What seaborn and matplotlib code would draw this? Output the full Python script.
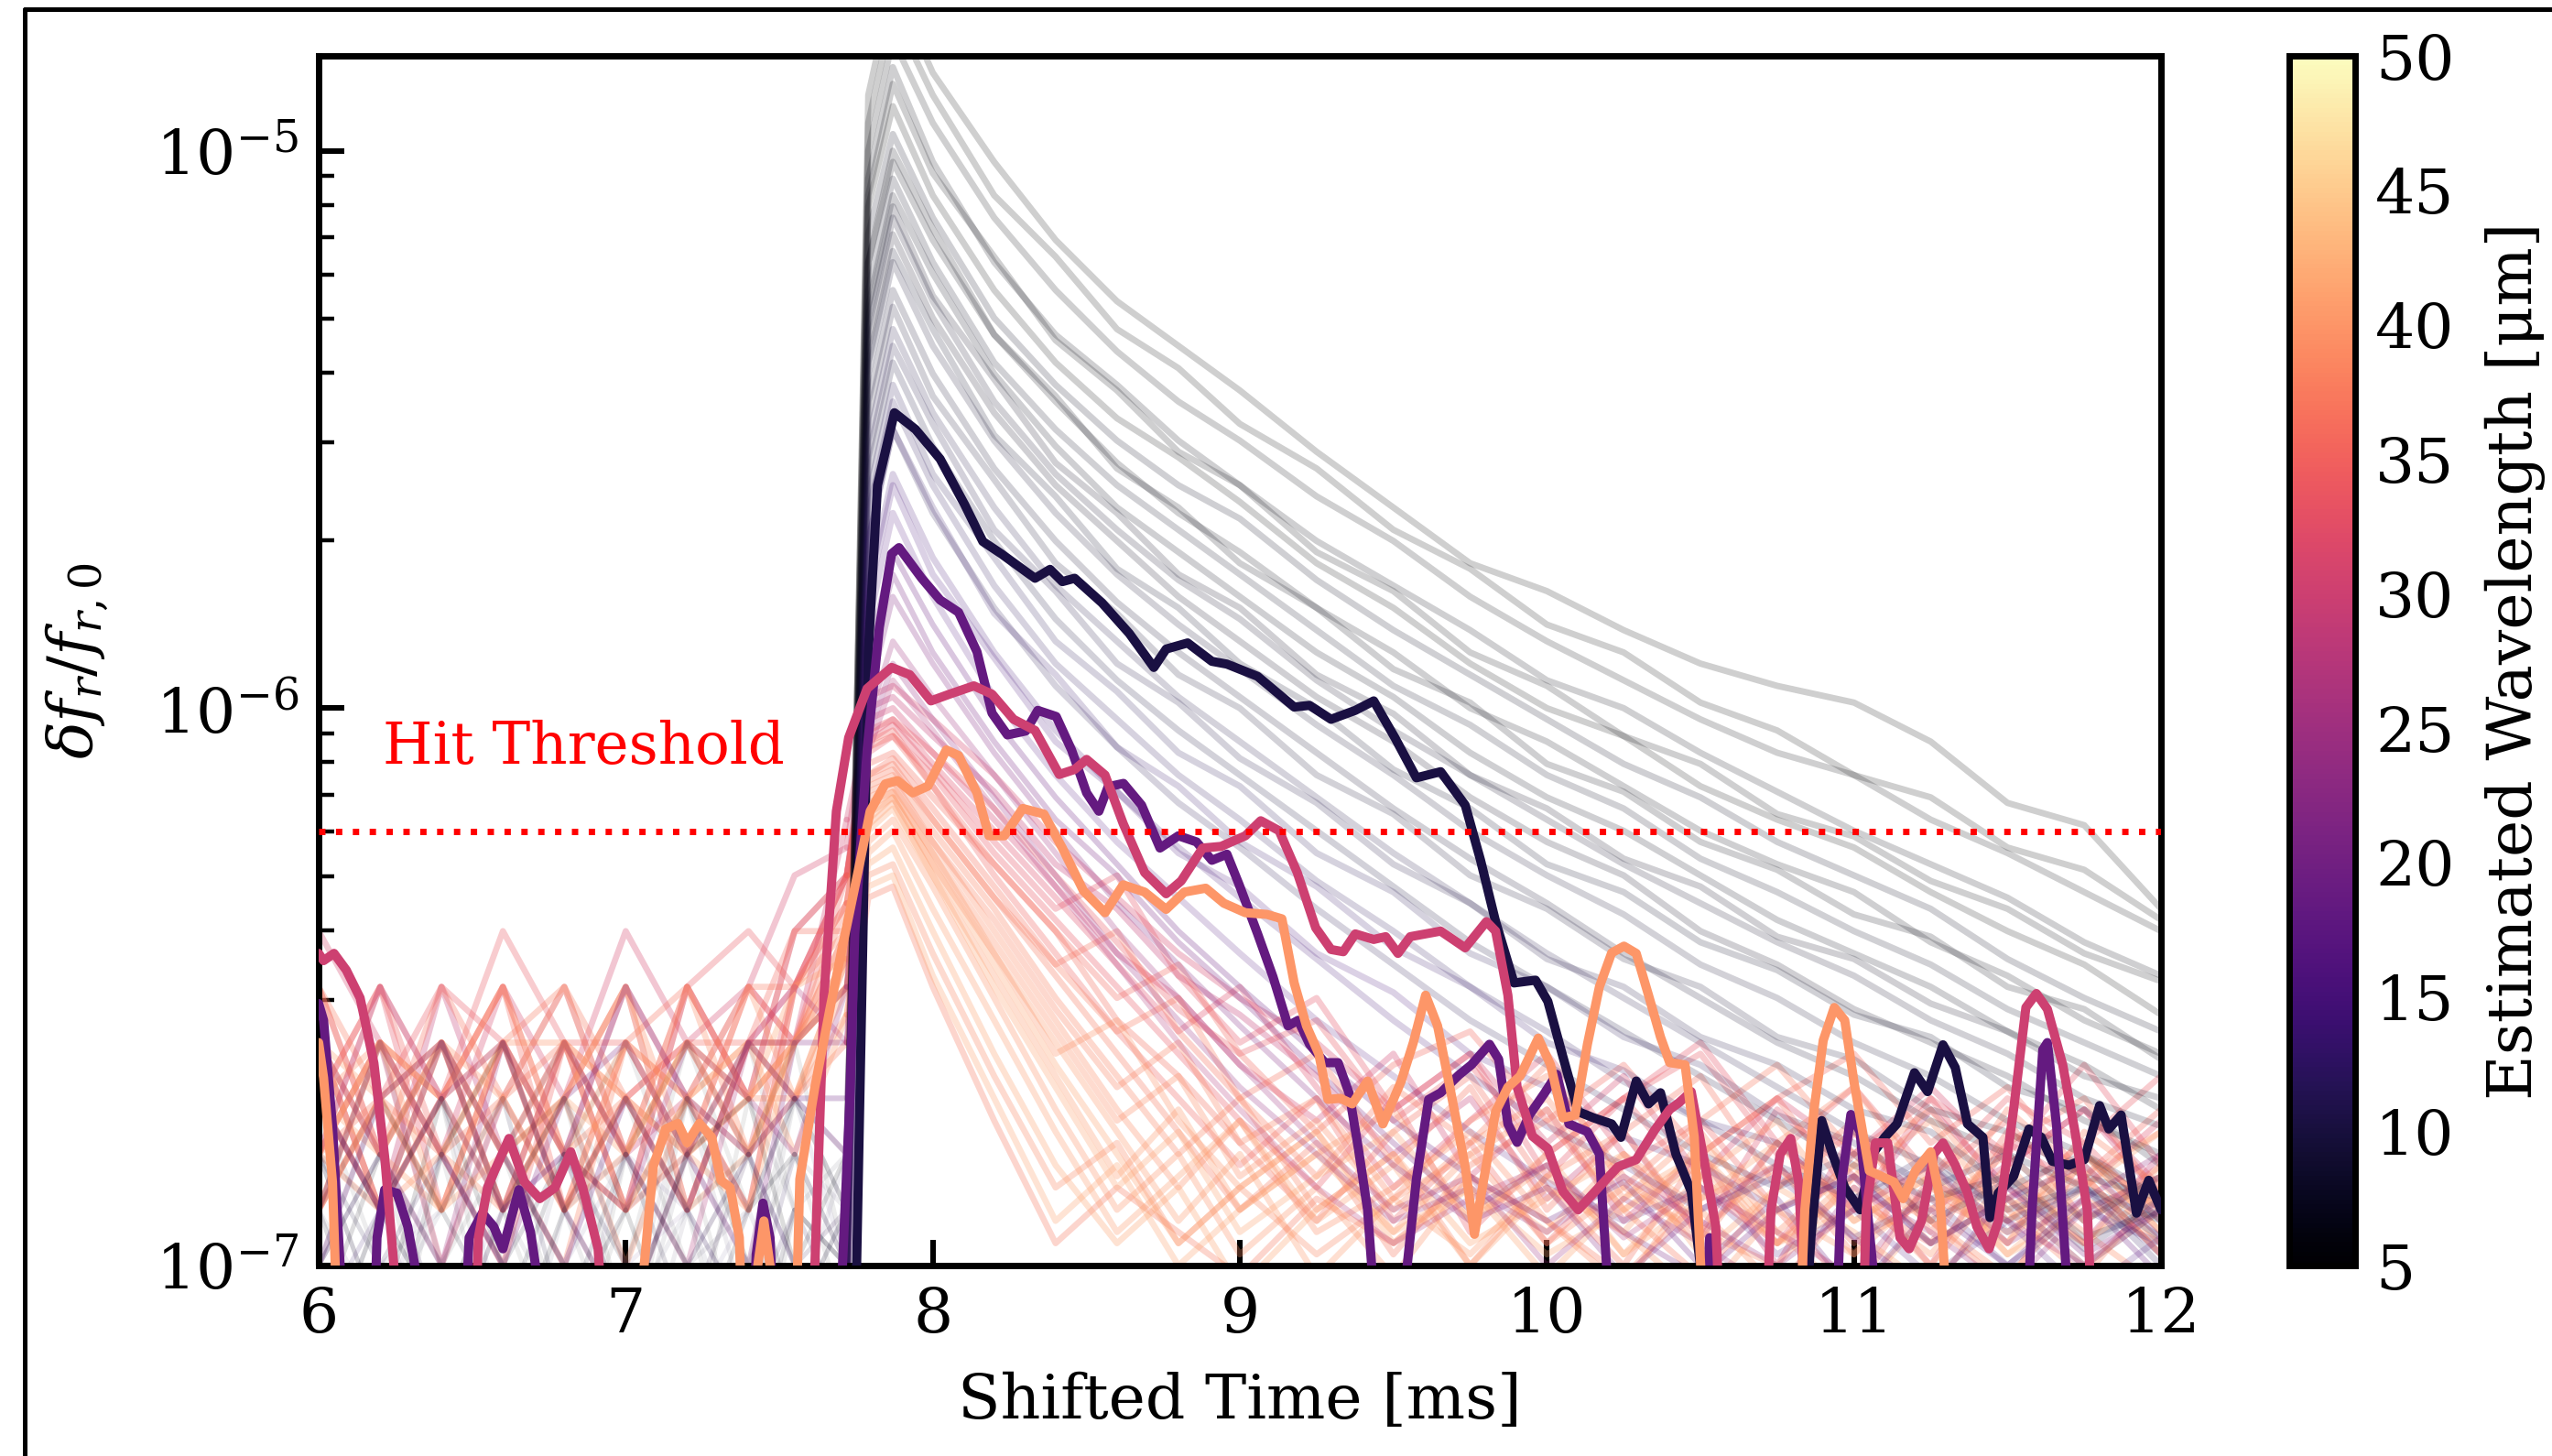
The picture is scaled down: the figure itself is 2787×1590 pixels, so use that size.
import numpy as np
import pandas as pd
import matplotlib
matplotlib.use("Agg")
import matplotlib.pyplot as plt
import seaborn as sns
from matplotlib.colors import Normalize
from matplotlib.cm import ScalarMappable
from matplotlib.lines import Line2D
from matplotlib.ticker import NullLocator, LogLocator

# ---------------- data (values in log10 of delta f_r / f_r,0) ----------------
bg_time = [6.0, 6.2, 6.4, 6.6, 6.8, 7.0, 7.2, 7.4, 7.55, 7.72, 7.79, 7.87,
           8.0, 8.2, 8.4, 8.6, 8.8, 9.0, 9.25, 9.5, 9.75, 10.0, 10.25, 10.5,
           10.75, 11.0, 11.25, 11.5, 11.75, 12.0]

dark_wavelength = [5.0, 5.6, 6.2, 5.3, 6.8, 5.9, 7.4, 6.5, 8.0, 7.0, 9.0, 8.2,
                   10.5, 9.5, 12.0, 11.0, 14.0, 16.0,
                   5.2, 5.8, 6.4, 7.2, 7.8, 8.8, 10.0, 11.5, 13.0, 15.0]
dark_log = [
    [-7.0, -6.8, -7.2, -6.9, -6.7, -7.1, -6.8, -7.2, -6.9, -7.0, -4.90, -4.70, -4.86, -5.02, -5.16, -5.27, -5.35, -5.43, -5.54, -5.64, -5.74, -5.79, -5.86, -5.92, -5.96, -5.99, -6.06, -6.17, -6.21, -6.36],
    [-6.8, -7.1, -6.7, -7.2, -6.9, -6.7, -7.0, -6.8, -7.1, -6.9, -5.00, -4.80, -4.95, -5.12, -5.25, -5.36, -5.45, -5.52, -5.62, -5.70, -5.80, -5.88, -5.95, -6.02, -6.08, -6.12, -6.20, -6.26, -6.33, -6.40],
    [-7.2, -6.9, -6.7, -7.0, -7.3, -6.8, -6.6, -6.9, -6.8, -7.1, -5.05, -4.85, -5.02, -5.20, -5.33, -5.42, -5.52, -5.60, -5.70, -5.78, -5.86, -5.95, -6.00, -6.08, -6.15, -6.22, -6.28, -6.34, -6.42, -6.48],
    [-6.9, -6.6, -7.0, -6.8, -7.1, -6.9, -7.2, -6.7, -7.0, -6.8, -5.10, -4.92, -5.08, -5.25, -5.38, -5.48, -5.55, -5.63, -5.74, -5.82, -5.92, -6.00, -6.05, -6.14, -6.20, -6.25, -6.33, -6.40, -6.46, -6.55],
    [-7.0, -7.3, -6.8, -6.6, -6.9, -7.2, -6.7, -7.0, -6.7, -6.9, -5.15, -4.97, -5.12, -5.30, -5.42, -5.52, -5.60, -5.66, -5.77, -5.86, -5.94, -6.02, -6.10, -6.16, -6.24, -6.30, -6.36, -6.45, -6.52, -6.58],
    [-6.7, -6.9, -7.1, -6.8, -6.6, -6.8, -7.1, -6.8, -6.6, -7.0, -5.20, -5.02, -5.16, -5.33, -5.45, -5.56, -5.65, -5.72, -5.82, -5.90, -6.00, -6.06, -6.14, -6.22, -6.28, -6.33, -6.42, -6.48, -6.56, -6.62],
    [-7.3, -7.0, -6.8, -7.2, -6.9, -6.7, -6.9, -7.3, -6.9, -7.1, -5.25, -5.05, -5.20, -5.38, -5.50, -5.60, -5.68, -5.76, -5.86, -5.96, -6.03, -6.12, -6.18, -6.27, -6.33, -6.40, -6.46, -6.54, -6.60, -6.66],
    [-6.9, -6.7, -6.9, -7.1, -6.8, -7.0, -6.6, -6.8, -7.0, -6.8, -5.28, -5.08, -5.22, -5.40, -5.53, -5.64, -5.72, -5.80, -5.90, -5.98, -6.08, -6.16, -6.22, -6.30, -6.38, -6.44, -6.50, -6.58, -6.64, -6.72],
    [-7.1, -6.8, -7.0, -6.7, -7.1, -6.8, -7.0, -7.1, -6.7, -6.9, -5.32, -5.12, -5.27, -5.45, -5.58, -5.68, -5.77, -5.84, -5.95, -6.04, -6.12, -6.20, -6.28, -6.35, -6.42, -6.48, -6.56, -6.62, -6.70, -6.75],
    [-6.8, -7.1, -6.7, -7.0, -6.8, -7.1, -6.8, -6.6, -6.9, -7.0, -5.35, -5.15, -5.30, -5.47, -5.60, -5.70, -5.80, -5.88, -5.98, -6.06, -6.16, -6.24, -6.30, -6.40, -6.46, -6.54, -6.60, -6.66, -6.74, -6.80],
    [-7.2, -6.9, -7.1, -6.8, -7.0, -7.3, -6.9, -6.8, -7.1, -6.9, -5.40, -5.20, -5.35, -5.52, -5.65, -5.76, -5.85, -5.93, -6.03, -6.12, -6.22, -6.30, -6.37, -6.46, -6.52, -6.60, -6.66, -6.74, -6.80, -6.88],
    [-6.8, -7.0, -7.2, -6.9, -6.7, -7.0, -7.2, -6.9, -6.8, -7.0, -5.45, -5.25, -5.40, -5.57, -5.70, -5.81, -5.90, -5.98, -6.08, -6.18, -6.27, -6.35, -6.44, -6.52, -6.60, -6.66, -6.74, -6.80, -6.86, -6.92],
    [-7.0, -6.8, -7.1, -7.3, -6.9, -6.8, -7.0, -6.8, -7.0, -7.1, -5.52, -5.32, -5.47, -5.64, -5.78, -5.88, -5.98, -6.06, -6.16, -6.26, -6.35, -6.44, -6.52, -6.60, -6.68, -6.76, -6.82, -6.90, -6.86, -6.95],
    [-6.9, -7.2, -6.8, -7.0, -6.8, -7.1, -6.7, -7.1, -6.8, -6.9, -5.58, -5.38, -5.53, -5.70, -5.84, -5.95, -6.04, -6.12, -6.22, -6.32, -6.42, -6.50, -6.58, -6.66, -6.74, -6.82, -6.88, -6.84, -6.95, -6.90],
    [-7.1, -6.9, -6.7, -7.1, -7.0, -6.8, -7.1, -6.9, -6.7, -7.0, -5.65, -5.45, -5.60, -5.78, -5.92, -6.02, -6.12, -6.20, -6.31, -6.40, -6.50, -6.58, -6.67, -6.74, -6.82, -6.88, -6.80, -6.92, -6.86, -7.00],
    [-6.8, -7.0, -6.9, -6.7, -7.1, -6.9, -6.8, -7.0, -7.1, -6.8, -5.70, -5.50, -5.65, -5.82, -5.96, -6.07, -6.17, -6.25, -6.36, -6.46, -6.56, -6.64, -6.72, -6.80, -6.86, -6.80, -6.92, -6.85, -6.97, -6.88],
    [-7.2, -7.0, -6.8, -7.0, -7.2, -7.0, -6.9, -7.1, -6.9, -7.1, -5.78, -5.58, -5.73, -5.90, -6.04, -6.15, -6.25, -6.34, -6.45, -6.56, -6.66, -6.75, -6.82, -6.90, -6.84, -6.95, -6.88, -7.00, -6.90, -6.96],
    [-7.0, -6.8, -7.1, -6.9, -6.8, -7.1, -7.0, -6.8, -7.0, -7.1, -5.85, -5.65, -5.80, -5.98, -6.12, -6.24, -6.34, -6.44, -6.56, -6.66, -6.76, -6.85, -6.92, -6.86, -6.98, -6.90, -7.02, -6.92, -7.05, -6.95],
    [-6.9, -7.2, -6.8, -6.6, -6.9, -7.1, -6.8, -6.7, -7.0, -6.9, -4.95, -4.75, -4.90, -5.08, -5.19, -5.32, -5.39, -5.49, -5.57, -5.68, -5.75, -5.85, -5.90, -5.99, -6.04, -6.12, -6.16, -6.25, -6.29, -6.38],
    [-7.1, -6.8, -6.6, -6.9, -7.2, -6.9, -6.7, -7.0, -6.8, -7.0, -5.08, -4.88, -5.04, -5.19, -5.34, -5.43, -5.54, -5.60, -5.72, -5.79, -5.90, -5.96, -6.05, -6.10, -6.19, -6.23, -6.31, -6.36, -6.44, -6.49],
    [-6.7, -7.0, -7.2, -6.8, -6.7, -6.9, -7.2, -6.9, -6.7, -6.8, -5.20, -5.00, -5.14, -5.33, -5.44, -5.57, -5.64, -5.74, -5.82, -5.93, -5.99, -6.10, -6.15, -6.24, -6.29, -6.37, -6.41, -6.50, -6.54, -6.63],
    [-7.0, -6.7, -6.9, -7.1, -6.8, -6.6, -6.9, -7.1, -6.9, -7.0, -5.30, -5.10, -5.26, -5.41, -5.56, -5.65, -5.76, -5.82, -5.94, -6.01, -6.12, -6.18, -6.27, -6.32, -6.41, -6.45, -6.53, -6.58, -6.66, -6.70],
    [-6.8, -6.9, -7.1, -6.8, -7.0, -7.2, -6.8, -6.7, -6.9, -6.8, -5.38, -5.18, -5.32, -5.51, -5.62, -5.75, -5.82, -5.92, -6.00, -6.11, -6.18, -6.28, -6.33, -6.42, -6.47, -6.55, -6.59, -6.68, -6.72, -6.82],
    [-7.2, -6.9, -6.7, -6.9, -7.1, -6.8, -7.0, -6.9, -6.7, -6.9, -5.48, -5.28, -5.44, -5.59, -5.74, -5.83, -5.94, -6.00, -6.12, -6.19, -6.30, -6.36, -6.45, -6.50, -6.59, -6.63, -6.72, -6.76, -6.84, -6.88],
    [-6.9, -7.1, -6.9, -6.7, -6.9, -7.1, -6.9, -7.2, -6.9, -7.0, -5.55, -5.35, -5.49, -5.68, -5.79, -5.92, -5.99, -6.09, -6.17, -6.28, -6.35, -6.45, -6.50, -6.59, -6.64, -6.72, -6.76, -6.86, -6.80, -6.92],
    [-7.0, -6.8, -7.0, -7.2, -6.8, -7.0, -6.7, -6.9, -7.1, -6.9, -5.62, -5.42, -5.58, -5.73, -5.88, -5.97, -6.08, -6.14, -6.26, -6.33, -6.44, -6.50, -6.59, -6.64, -6.73, -6.78, -6.86, -6.80, -6.92, -6.84],
    [-6.8, -7.1, -6.8, -7.0, -7.2, -6.8, -6.9, -7.1, -6.8, -7.0, -5.70, -5.50, -5.64, -5.83, -5.94, -6.07, -6.14, -6.24, -6.32, -6.43, -6.50, -6.60, -6.65, -6.74, -6.78, -6.88, -6.82, -6.94, -6.86, -6.98],
    [-7.1, -6.9, -7.2, -6.9, -6.7, -7.0, -7.1, -6.8, -7.0, -6.9, -5.80, -5.60, -5.76, -5.91, -6.06, -6.15, -6.26, -6.32, -6.44, -6.51, -6.62, -6.68, -6.77, -6.82, -6.90, -6.84, -6.96, -6.88, -7.00, -6.90],
]

mid_wavelength = [19.0, 22.0, 25.0, 27.0, 20.5, 24.0]
mid_log = [
    [-6.7, -6.9, -6.6, -6.8, -7.0, -6.7, -6.9, -6.6, -6.7, -6.7, -5.90, -5.72, -5.85, -6.02, -6.16, -6.28, -6.40, -6.50, -6.62, -6.74, -6.84, -6.92, -6.85, -7.00, -6.88, -7.05, -6.90, -7.00, -6.88, -7.02],
    [-6.9, -6.6, -6.8, -7.0, -6.7, -6.6, -6.8, -7.0, -6.6, -6.6, -5.98, -5.80, -5.92, -6.08, -6.22, -6.35, -6.46, -6.57, -6.70, -6.82, -6.92, -6.86, -7.02, -6.90, -6.82, -6.95, -7.05, -6.86, -6.98, -6.90],
    [-6.6, -6.8, -7.0, -6.6, -6.8, -6.9, -6.6, -6.7, -6.8, -6.5, -6.02, -5.88, -5.98, -6.12, -6.26, -6.40, -6.52, -6.64, -6.78, -6.90, -6.84, -7.00, -6.88, -6.96, -7.05, -6.86, -6.94, -7.04, -6.90, -6.84],
    [-6.8, -6.5, -6.7, -6.9, -6.6, -6.8, -7.0, -6.6, -6.5, -6.6, -6.08, -5.95, -6.04, -6.18, -6.32, -6.46, -6.60, -6.72, -6.86, -6.96, -6.88, -6.82, -6.95, -6.86, -6.94, -7.02, -6.85, -6.92, -7.00, -6.88],
    [-7.0, -6.7, -6.6, -6.9, -6.8, -6.5, -6.7, -6.8, -6.7, -6.8, -5.94, -5.76, -5.90, -6.06, -6.20, -6.30, -6.42, -6.52, -6.65, -6.78, -6.90, -6.82, -6.94, -7.02, -6.90, -6.84, -6.96, -6.88, -6.82, -6.95],
    [-6.7, -6.9, -6.7, -6.6, -6.9, -7.1, -6.8, -6.6, -6.6, -6.5, -6.05, -5.92, -6.02, -6.16, -6.30, -6.44, -6.56, -6.68, -6.80, -6.92, -6.86, -6.94, -6.84, -6.92, -7.00, -6.90, -6.82, -6.96, -6.88, -6.80],
]

warm_wavelength = [29.0, 30.5, 32.0, 33.5, 35.0, 36.0, 37.0, 38.0, 39.0, 40.0,
                   41.0, 41.5, 39.5, 40.5, 41.0, 38.5, 31.0, 34.0, 41.5, 37.0,
                   33.0, 36.5, 38.0, 39.5, 40.0, 37.5, 39.0, 35.5]
warm_log = [
    [-6.6, -6.9, -6.5, -6.8, -6.6, -6.9, -6.5, -6.7, -6.4, -6.30, -6.00, -5.98, -6.05, -6.15, -6.28, -6.36, -6.48, -6.55, -6.66, -6.80, -6.70, -6.88, -6.76, -6.95, -6.78, -6.90, -6.72, -6.86, -6.96, -6.80],
    [-6.8, -6.6, -7.0, -6.7, -6.5, -6.8, -6.7, -6.5, -6.6, -6.20, -6.02, -6.00, -6.08, -6.20, -6.32, -6.44, -6.52, -6.64, -6.74, -6.62, -6.84, -6.72, -6.92, -6.80, -7.00, -6.76, -6.90, -6.82, -6.72, -6.88],
    [-6.5, -6.8, -6.6, -6.9, -6.7, -6.5, -6.9, -6.6, -6.5, -6.30, -6.05, -6.02, -6.10, -6.22, -6.34, -6.46, -6.58, -6.50, -6.68, -6.86, -6.74, -6.62, -6.80, -6.94, -6.72, -6.84, -7.00, -6.78, -6.86, -6.74],
    [-6.9, -6.7, -6.5, -6.6, -6.9, -6.7, -6.6, -6.8, -6.5, -6.35, -6.08, -6.05, -6.12, -6.26, -6.38, -6.50, -6.62, -6.74, -6.86, -6.70, -6.94, -6.80, -6.70, -6.86, -6.96, -6.80, -6.70, -6.88, -6.78, -6.92],
    [-6.7, -6.5, -6.8, -7.0, -6.6, -6.6, -6.8, -6.5, -6.6, -6.30, -6.06, -6.04, -6.14, -6.30, -6.44, -6.58, -6.70, -6.82, -6.70, -6.92, -6.78, -6.96, -6.82, -6.74, -6.90, -7.05, -6.84, -6.74, -6.92, -6.82],
    [-6.6, -6.9, -6.7, -6.5, -6.8, -6.9, -6.5, -6.7, -6.4, -6.40, -6.10, -6.08, -6.16, -6.28, -6.40, -6.56, -6.66, -6.78, -6.92, -6.76, -6.66, -6.86, -7.00, -6.80, -6.70, -6.88, -6.96, -6.76, -6.84, -6.98],
    [-6.8, -6.7, -6.9, -6.6, -6.5, -6.7, -6.9, -6.6, -6.6, -6.35, -6.12, -6.10, -6.20, -6.34, -6.48, -6.62, -6.76, -6.90, -6.78, -6.98, -6.82, -6.74, -6.90, -7.02, -6.86, -6.76, -6.92, -7.04, -6.80, -6.90],
    [-6.5, -6.8, -6.6, -6.8, -7.0, -6.6, -6.7, -6.9, -6.5, -6.40, -6.14, -6.12, -6.22, -6.36, -6.52, -6.66, -6.80, -6.70, -6.90, -6.80, -7.00, -6.84, -6.76, -6.94, -6.82, -6.98, -6.80, -6.90, -7.02, -6.86],
    [-6.7, -6.6, -6.8, -6.9, -6.6, -6.8, -6.5, -6.8, -6.6, -6.40, -6.16, -6.14, -6.24, -6.40, -6.56, -6.72, -6.86, -6.74, -6.94, -6.86, -6.76, -6.92, -7.04, -6.84, -6.96, -6.86, -7.00, -6.84, -6.94, -7.04],
    [-6.9, -6.7, -6.6, -6.8, -6.7, -7.0, -6.7, -6.6, -6.7, -6.45, -6.18, -6.15, -6.26, -6.44, -6.60, -6.76, -6.92, -6.80, -7.02, -6.88, -6.98, -6.84, -6.94, -7.06, -6.90, -6.82, -6.96, -6.88, -7.00, -6.90],
    [-6.6, -6.8, -6.9, -6.6, -6.8, -6.6, -6.8, -6.7, -6.5, -6.45, -6.20, -6.16, -6.28, -6.46, -6.64, -6.80, -6.96, -6.86, -6.76, -6.96, -6.86, -7.02, -6.88, -6.80, -6.94, -7.06, -6.90, -6.80, -6.92, -6.84],
    [-6.8, -6.6, -6.7, -6.9, -6.7, -6.5, -6.9, -6.8, -6.6, -6.50, -6.22, -6.18, -6.30, -6.50, -6.68, -6.86, -6.76, -6.94, -6.84, -6.76, -6.92, -6.80, -6.98, -6.88, -6.78, -6.92, -6.84, -6.98, -6.86, -6.76],
    [-6.7, -6.9, -6.6, -6.7, -6.9, -6.8, -6.6, -6.7, -6.7, -6.50, -6.24, -6.20, -6.32, -6.52, -6.72, -6.90, -6.80, -6.98, -6.86, -7.02, -6.84, -6.94, -6.80, -6.90, -7.04, -6.88, -6.98, -6.82, -6.96, -6.86],
    [-6.9, -6.6, -6.8, -6.6, -6.8, -6.9, -6.7, -6.6, -6.8, -6.55, -6.26, -6.22, -6.36, -6.56, -6.76, -6.94, -6.84, -6.74, -6.92, -6.82, -7.00, -6.86, -6.94, -6.78, -6.90, -6.98, -6.86, -6.92, -6.80, -6.94],
    [-6.6, -6.7, -6.9, -6.8, -6.6, -6.7, -6.8, -6.9, -6.6, -6.50, -6.28, -6.25, -6.40, -6.62, -6.82, -6.96, -6.86, -7.04, -6.90, -6.80, -6.96, -6.88, -6.80, -6.98, -6.86, -6.94, -7.04, -6.88, -6.96, -6.82],
    [-6.8, -6.9, -6.7, -6.6, -6.9, -6.6, -6.7, -6.8, -6.7, -6.55, -6.30, -6.28, -6.44, -6.66, -6.86, -6.78, -6.96, -6.86, -6.98, -6.88, -6.80, -6.96, -6.86, -6.94, -7.00, -6.84, -6.92, -7.02, -6.88, -6.96],
    [-6.4, -6.6, -6.8, -6.5, -6.7, -6.4, -6.6, -6.5, -6.3, -6.25, -5.98, -5.96, -6.02, -6.12, -6.24, -6.34, -6.44, -6.52, -6.60, -6.72, -6.62, -6.78, -6.66, -6.84, -6.70, -6.80, -6.68, -6.82, -6.72, -6.86],
    [-6.8, -6.5, -6.7, -6.4, -6.6, -6.8, -6.5, -6.4, -6.5, -6.30, -6.04, -6.02, -6.08, -6.18, -6.30, -6.42, -6.54, -6.62, -6.56, -6.74, -6.64, -6.80, -6.70, -6.62, -6.80, -6.68, -6.84, -6.70, -6.78, -6.66],
    [-6.7, -6.8, -6.6, -6.9, -6.7, -6.8, -6.6, -6.7, -6.6, -6.50, -6.32, -6.30, -6.48, -6.70, -6.92, -6.82, -7.00, -6.90, -6.80, -6.94, -6.86, -6.98, -6.90, -6.82, -6.96, -6.90, -6.82, -6.98, -6.90, -6.84],
    [-6.9, -6.7, -6.8, -6.7, -6.6, -6.9, -6.8, -6.6, -6.7, -6.60, -6.34, -6.32, -6.50, -6.74, -6.96, -6.86, -6.94, -7.02, -6.88, -6.96, -6.84, -6.92, -7.02, -6.88, -6.82, -6.96, -6.88, -6.94, -6.84, -6.98],
    [-6.7, -6.5, -6.9, -6.6, -6.8, -6.5, -6.7, -6.9, -6.5, -6.30, -6.06, -6.03, -6.11, -6.24, -6.36, -6.30, -6.48, -6.60, -6.52, -6.72, -6.62, -6.84, -6.70, -6.60, -6.78, -6.90, -6.70, -6.80, -6.64, -6.82],
    [-6.6, -6.8, -6.5, -6.7, -6.9, -6.6, -6.5, -6.7, -6.6, -6.40, -6.12, -6.09, -6.18, -6.32, -6.46, -6.40, -6.58, -6.70, -6.62, -6.82, -6.68, -6.90, -6.76, -6.66, -6.86, -6.74, -6.94, -6.78, -6.70, -6.88],
    [-6.9, -6.6, -6.7, -6.5, -6.8, -6.7, -6.9, -6.6, -6.6, -6.45, -6.15, -6.13, -6.24, -6.38, -6.54, -6.68, -6.60, -6.78, -6.70, -6.88, -6.74, -6.66, -6.84, -6.96, -6.78, -6.68, -6.86, -6.96, -6.76, -6.86],
    [-6.6, -6.9, -6.8, -6.6, -6.6, -6.9, -6.7, -6.5, -6.7, -6.45, -6.19, -6.16, -6.28, -6.44, -6.62, -6.56, -6.74, -6.86, -6.76, -6.94, -6.80, -6.72, -6.90, -6.80, -6.96, -6.84, -6.74, -6.92, -6.82, -6.96],
    [-6.8, -6.6, -6.9, -6.7, -6.5, -6.8, -6.6, -6.8, -6.6, -6.50, -6.21, -6.17, -6.30, -6.48, -6.66, -6.84, -6.72, -6.90, -6.80, -6.72, -6.92, -6.82, -6.98, -6.84, -6.74, -6.92, -6.84, -6.96, -6.80, -6.90],
    [-6.5, -6.7, -6.6, -6.9, -6.6, -6.7, -6.8, -6.5, -6.5, -6.35, -6.13, -6.11, -6.20, -6.34, -6.46, -6.58, -6.52, -6.70, -6.84, -6.68, -6.78, -6.64, -6.86, -6.74, -6.64, -6.80, -6.92, -6.72, -6.84, -6.76],
    [-6.7, -6.9, -6.6, -6.8, -6.7, -6.5, -6.8, -6.7, -6.6, -6.45, -6.17, -6.15, -6.26, -6.42, -6.58, -6.74, -6.66, -6.84, -6.74, -6.90, -6.78, -6.70, -6.88, -6.76, -6.94, -6.82, -6.72, -6.90, -6.80, -6.94],
    [-6.8, -6.6, -6.7, -6.5, -6.9, -6.7, -6.6, -6.6, -6.4, -6.30, -6.07, -6.05, -6.14, -6.28, -6.40, -6.52, -6.46, -6.62, -6.76, -6.64, -6.58, -6.74, -6.64, -6.80, -6.70, -6.62, -6.78, -6.68, -6.84, -6.72],
]

# highlighted traces (time [ms], log10 value)
hl_wavelength = [10.4, 18.5, 30.0, 40.0]

navy_t = [6.0, 7.745, 7.766, 7.79, 7.82, 7.875, 7.944, 8.024, 8.104, 8.163, 8.223, 8.293, 8.333, 8.382, 8.422, 8.462,
          8.551, 8.640, 8.720, 8.760, 8.830, 8.909, 8.958, 9.058, 9.177, 9.227, 9.297, 9.376, 9.436, 9.505, 9.575,
          9.654, 9.734, 9.784, 9.833, 9.893, 9.963, 10.003, 10.052, 10.102, 10.152, 10.211, 10.241, 10.291, 10.331,
          10.370, 10.420, 10.470, 10.50, 10.53, 10.82, 10.86, 10.895, 10.93, 10.97, 11.02, 11.06, 11.10, 11.14,
          11.197, 11.24, 11.29, 11.33, 11.37, 11.42, 11.443, 11.47, 11.52, 11.57, 11.61, 11.646, 11.70, 11.75,
          11.80, 11.83, 11.87, 11.92, 11.96, 12.0]
navy_v = [-7.3, -7.2, -6.6, -5.9, -5.6, -5.47, -5.50, -5.553, -5.635, -5.701, -5.723, -5.751, -5.767, -5.751, -5.773, -5.767,
          -5.811, -5.866, -5.927, -5.894, -5.883, -5.916, -5.921, -5.943, -5.998, -5.995, -6.020, -6.004, -5.987, -6.053, -6.125,
          -6.114, -6.174, -6.273, -6.383, -6.493, -6.488, -6.526, -6.625, -6.724, -6.735, -6.746, -6.77, -6.669, -6.71,
          -6.69, -6.80, -6.867, -7.0, -7.3, -7.3, -6.95, -6.74, -6.80, -6.86, -6.90, -6.80, -6.77, -6.746,
          -6.654, -6.688, -6.604, -6.645, -6.746, -6.77, -6.914, -6.87, -6.84, -6.755, -6.77, -6.813, -6.82, -6.81,
          -6.713, -6.755, -6.73, -6.906, -6.847, -6.90]

purple_t = [6.0, 6.016, 6.045, 6.075, 6.10, 6.17, 6.19, 6.215, 6.255, 6.29, 6.33, 6.36, 6.46, 6.49, 6.533, 6.57, 6.60,
            6.652, 6.69, 6.72, 6.75, 7.40, 7.425, 7.447, 7.47, 7.49, 7.52, 7.69, 7.706, 7.73, 7.746, 7.786, 7.826,
            7.866, 7.89, 7.964, 8.024, 8.084, 8.144, 8.193, 8.243, 8.303, 8.342, 8.402, 8.452, 8.501, 8.541, 8.571,
            8.621, 8.680, 8.740, 8.800, 8.859, 8.909, 8.958, 8.998, 9.058, 9.108, 9.157, 9.19, 9.227, 9.277, 9.32,
            9.356, 9.386, 9.416, 9.436, 9.46, 9.52, 9.545, 9.575, 9.615, 9.654, 9.714, 9.754, 9.813, 9.843, 9.873,
            9.903, 9.943, 9.992, 10.032, 10.072, 10.132, 10.171, 10.20, 10.23, 10.50, 10.53, 10.56, 10.93, 10.96,
            10.99, 11.02, 11.04, 11.07, 11.09, 11.55, 11.58, 11.615, 11.63, 11.66, 11.69, 11.72, 12.0]
purple_v = [-6.53, -6.56, -6.75, -7.05, -7.3, -7.3, -6.95, -6.864, -6.87, -6.93, -7.05, -7.3, -7.3, -6.95, -6.906, -6.93, -6.97,
            -6.864, -6.94, -7.05, -7.3, -7.3, -6.98, -6.888, -6.95, -7.2, -7.3, -7.3, -7.0, -6.7, -6.405, -6.075, -5.855,
            -5.723, -5.712, -5.767, -5.806, -5.828, -5.899, -6.009, -6.048, -6.041, -6.004, -6.015, -6.075, -6.152, -6.185, -6.141,
            -6.135, -6.174, -6.251, -6.229, -6.24, -6.273, -6.262, -6.317, -6.405, -6.482, -6.570, -6.56, -6.603, -6.636, -6.636,
            -6.691, -6.79, -6.90, -7.05, -7.3, -7.3, -7.0, -6.845, -6.702, -6.69, -6.658, -6.64, -6.603, -6.63, -6.746,
            -6.779, -6.73, -6.691, -6.657, -6.746, -6.76, -6.80, -7.05, -7.3, -7.3, -6.95, -7.3, -7.3, -6.85,
            -6.729, -6.76, -6.88, -7.05, -7.3, -7.3, -6.9, -6.613, -6.60, -6.75, -7.0, -7.3, -7.3]

pink_t = [6.0, 6.016, 6.05, 6.09, 6.135, 6.18, 6.215, 6.245, 6.26, 6.50, 6.52, 6.55, 6.573, 6.62, 6.67, 6.72, 6.77,
          6.821, 6.86, 6.91, 6.95, 7.60, 7.616, 7.646, 7.686, 7.726, 7.786, 7.866, 7.925, 7.994, 8.054, 8.134,
          8.193, 8.263, 8.333, 8.412, 8.462, 8.501, 8.561, 8.620, 8.690, 8.760, 8.809, 8.879, 8.939, 9.018, 9.068,
          9.128, 9.187, 9.247, 9.297, 9.337, 9.376, 9.436, 9.475, 9.515, 9.555, 9.654, 9.734, 9.803, 9.833, 9.873,
          9.903, 9.953, 10.003, 10.052, 10.102, 10.152, 10.231, 10.291, 10.351, 10.40, 10.43, 10.47, 10.51, 10.55,
          10.58, 10.70, 10.73, 10.76, 10.794, 10.82, 10.86, 11.02, 11.04, 11.07, 11.11, 11.15, 11.18, 11.22, 11.26,
          11.29, 11.33, 11.37, 11.40, 11.44, 11.47, 11.52, 11.56, 11.594, 11.63, 11.68, 11.72, 11.76, 11.79, 12.0]
pink_v = [-6.44, -6.453, -6.44, -6.47, -6.52, -6.637, -6.805, -7.0, -7.3, -7.3, -6.95, -6.86, -6.83, -6.772, -6.85, -6.88, -6.86,
          -6.796, -6.86, -6.97, -7.3, -7.3, -7.0, -6.515, -6.185, -6.053, -5.965, -5.927, -5.94, -5.987, -5.975, -5.960,
          -5.975, -6.020, -6.04, -6.119, -6.11, -6.092, -6.12, -6.207, -6.295, -6.333, -6.31, -6.251, -6.248, -6.229, -6.202,
          -6.22, -6.295, -6.394, -6.433, -6.437, -6.405, -6.415, -6.41, -6.44, -6.41, -6.400, -6.43, -6.383, -6.40, -6.515,
          -6.68, -6.768, -6.79, -6.867, -6.90, -6.87, -6.823, -6.81, -6.757, -6.72, -6.708, -6.688, -6.805, -6.93,
          -7.3, -7.3, -6.9, -6.80, -6.772, -6.85, -7.3, -7.3, -6.90, -6.78, -6.78, -6.95, -6.97, -6.92, -6.80,
          -6.78, -6.82, -6.87, -6.93, -6.97, -6.92, -6.72, -6.537, -6.512, -6.54, -6.64, -6.76, -6.9, -7.3, -7.3]

orange_t = [6.0, 6.016, 6.045, 6.06, 6.08, 7.04, 7.06, 7.09, 7.13, 7.17, 7.20, 7.24, 7.28, 7.31, 7.34, 7.37, 7.39, 7.43,
            7.45, 7.47, 7.49, 7.545, 7.567, 7.616, 7.666, 7.706, 7.756, 7.796, 7.845, 7.885, 7.935, 7.984, 8.044,
            8.084, 8.144, 8.183, 8.233, 8.293, 8.362, 8.422, 8.491, 8.561, 8.620, 8.690, 8.760, 8.819, 8.889, 8.948,
            9.018, 9.088, 9.137, 9.177, 9.217, 9.257, 9.287, 9.327, 9.366, 9.416, 9.466, 9.525, 9.565, 9.605, 9.644,
            9.684, 9.734, 9.764, 9.793, 9.833, 9.873, 9.913, 9.972, 10.012, 10.052, 10.092, 10.132, 10.171, 10.211,
            10.251, 10.291, 10.331, 10.370, 10.40, 10.45, 10.48, 10.51, 10.53, 10.81, 10.84, 10.87, 10.90, 10.936,
            10.97, 11.00, 11.05, 11.09, 11.13, 11.16, 11.20, 11.25, 11.28, 11.30, 11.32, 12.0]
orange_v = [-6.60, -6.663, -6.85, -7.1, -7.3, -7.3, -7.0, -6.822, -6.755, -6.745, -6.78, -6.745, -6.77, -6.847, -6.86, -6.95, -7.3, -7.0,
            -6.92, -7.0, -7.3, -7.3, -6.845, -6.68, -6.537, -6.427, -6.295, -6.185, -6.136, -6.13, -6.152, -6.14, -6.075,
            -6.085, -6.152, -6.229, -6.229, -6.180, -6.19, -6.251, -6.328, -6.367, -6.317, -6.33, -6.361, -6.33, -6.323, -6.35,
            -6.367, -6.37, -6.378, -6.493, -6.570, -6.62, -6.702, -6.70, -6.71, -6.669, -6.746, -6.67, -6.60, -6.515, -6.57,
            -6.68, -6.823, -6.944, -6.85, -6.724, -6.68, -6.66, -6.592, -6.64, -6.735, -6.73, -6.603, -6.50, -6.439,
            -6.427, -6.44, -6.515, -6.59, -6.636, -6.64, -6.77, -7.1, -7.3, -7.3, -6.9, -6.72, -6.596, -6.537,
            -6.56, -6.67, -6.83, -6.84, -6.85, -6.88, -6.83, -6.796, -6.88, -7.05, -7.3, -7.3]

threshold = 6e-7
x_ticks = [6, 7, 8, 9, 10, 11, 12]
cbar_ticks = [5, 10, 15, 20, 25, 30, 35, 40, 45, 50]

# index in bg_time where each trace's rising edge begins (7.72 ms)
PRE_END = 9

# ---------------- build long-form frames ----------------
def bg_frame(rows, wls, prefix):
    recs = []
    for i, (row, wl) in enumerate(zip(rows, wls)):
        assert len(row) == len(bg_time), (prefix, i, len(row))
        for j, (t, lv) in enumerate(zip(bg_time, row)):
            if j <= PRE_END:
                recs.append((f"{prefix}{i}a", "pre", wl, t, 10.0 ** lv))
            if j >= PRE_END:
                recs.append((f"{prefix}{i}b", "pulse", wl, t, 10.0 ** lv))
    return pd.DataFrame(recs, columns=["trace", "part", "wavelength", "time", "value"])

assert len(dark_log) == len(dark_wavelength)
assert len(warm_log) == len(warm_wavelength)
df_dark = bg_frame(dark_log, dark_wavelength, "d")
df_mid = bg_frame(mid_log, mid_wavelength, "m")
df_warm = bg_frame(warm_log, warm_wavelength, "w")

hl_recs = []
for name, tt, vv, wl in zip(["navy", "purple", "pink", "orange"],
                            [navy_t, purple_t, pink_t, orange_t],
                            [navy_v, purple_v, pink_v, orange_v],
                            hl_wavelength):
    assert len(tt) == len(vv), (name, len(tt), len(vv))
    for t, lv in zip(tt, vv):
        hl_recs.append((name, wl, t, 10.0 ** lv))
df_hl = pd.DataFrame(hl_recs, columns=["trace", "wavelength", "time", "value"])

# ---------------- style ----------------
sns.set_style("ticks")
plt.rcParams.update({
    "font.family": ["DejaVu Serif"],
    "mathtext.fontset": "dejavuserif",
    "axes.linewidth": 2.5,
    "xtick.direction": "in",
    "ytick.direction": "in",
    "text.color": "black",
    "axes.labelcolor": "black",
    "xtick.color": "black",
    "ytick.color": "black",
    "axes.edgecolor": "black",
})

W, H = 2787, 1590
fig = plt.figure(figsize=(W / 200, H / 200), dpi=200)
fig.patch.set_facecolor("white")

ax_l, ax_r, ax_t, ax_b = 348, 2360, 61, 1382
ax = fig.add_axes([ax_l / W, 1 - ax_b / H, (ax_r - ax_l) / W, (ax_b - ax_t) / H])
ax.set_facecolor("white")

norm = (5, 50)
kw = dict(x="time", y="value", hue="wavelength", units="trace", estimator=None,
          palette="magma", hue_norm=norm, legend=False, ax=ax)
sns.lineplot(data=df_warm, alpha=0.3, lw=2.4, zorder=1, **kw)
sns.lineplot(data=df_mid, alpha=0.25, lw=2.2, zorder=1, **kw)
sns.lineplot(data=df_dark[df_dark.part == "pre"], alpha=0.07, lw=1.8, zorder=1, **kw)
sns.lineplot(data=df_dark[df_dark.part == "pulse"], alpha=0.19, lw=2.5, zorder=1, **kw)
sns.lineplot(data=df_hl, alpha=1.0, lw=3.6, zorder=3, **kw)

ax.axhline(threshold, color="red", ls=":", lw=2.5, zorder=4)
ax.text(6.21, 10 ** -6.10, "Hit Threshold", color="red", fontsize=22.5,
        ha="left", va="baseline", zorder=5)

ax.set_yscale("log")
ax.set_xlim(6, 12)
ax.set_ylim(1e-7, 1.48e-5)
ax.set_xticks(x_ticks)
ax.xaxis.set_minor_locator(NullLocator())
ax.yaxis.set_major_locator(LogLocator(base=10))
ax.yaxis.set_minor_locator(LogLocator(base=10, subs=np.arange(2, 10)))

ax.tick_params(axis="both", which="major", direction="in", length=10, width=2.2,
               labelsize=24.5, top=False, right=False, pad=8, colors="black")
ax.tick_params(axis="both", which="minor", direction="in", length=6, width=1.6,
               top=False, right=False, colors="black")
for s in ax.spines.values():
    s.set_linewidth(2.5)
    s.set_color("black")

ax.set_xlabel("Shifted Time [ms]", fontsize=24.5, labelpad=10, color="black")
ax.set_ylabel(r"$\delta f_r/f_{r,0}$", fontsize=24.5, color="black")
ax.yaxis.set_label_coords(-0.113, 0.5)
ax.grid(False)

# colorbar
cax = fig.add_axes([2500 / W, 1 - ax_b / H, 72 / W, (ax_b - ax_t) / H])
sm = ScalarMappable(norm=Normalize(*norm), cmap="magma")
cb = fig.colorbar(sm, cax=cax, ticks=cbar_ticks)
cb.ax.tick_params(direction="in", length=10, width=2.2, labelsize=24.5, pad=8,
                  right=True, left=False, colors="black")
cb.ax.minorticks_off()
cb.outline.set_linewidth(2.5)
cb.outline.set_edgecolor("black")
cb.set_label("Estimated Wavelength [μm]", fontsize=24.5, labelpad=12, color="black")

# outer frame lines of the cropped figure
fig.add_artist(Line2D([27 / W, 1.0], [1 - 10 / H, 1 - 10 / H], transform=fig.transFigure,
                      color="black", lw=1.8))
fig.add_artist(Line2D([27 / W, 27 / W], [0.0, 1 - 10 / H], transform=fig.transFigure,
                      color="black", lw=1.8))

fig.savefig("out.png", dpi=200, facecolor="white")
